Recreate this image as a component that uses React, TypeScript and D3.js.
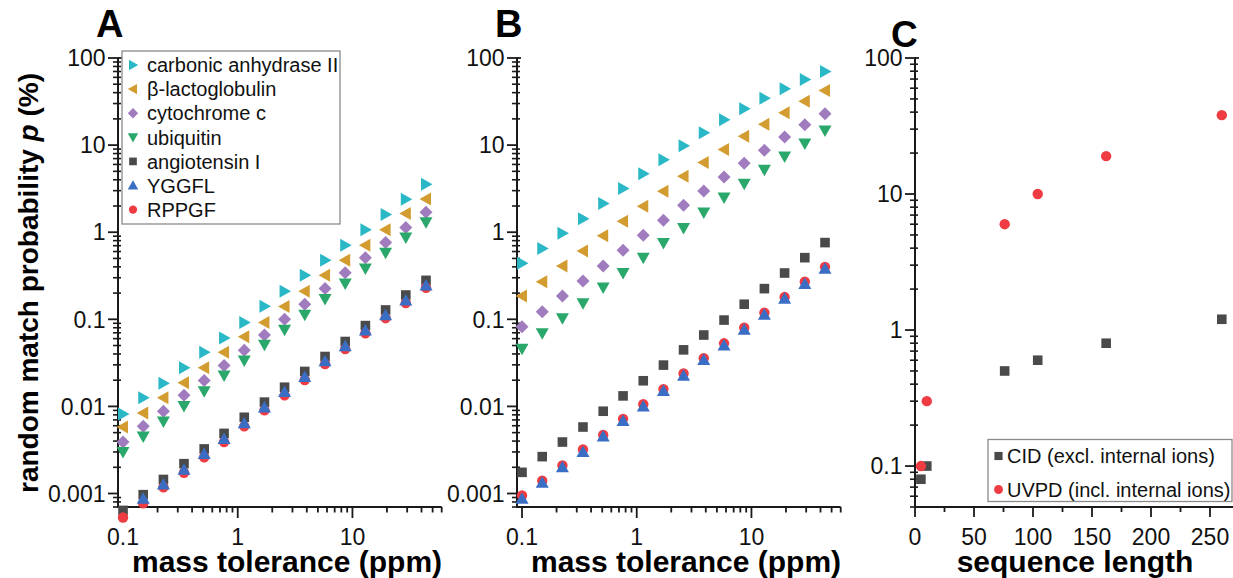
import React from 'react';
import * as d3 from 'd3';

// ---------- data ----------
const toleranceSteps = [0.1, 0.15, 0.225, 0.34, 0.51, 0.76, 1.14, 1.71, 2.56, 3.84, 5.77, 8.65, 12.97, 19.46, 29.19, 43.79];

const seriesNames = ['carbonic anhydrase II', 'β-lactoglobulin', 'cytochrome c', 'ubiquitin', 'angiotensin I', 'YGGFL', 'RPPGF'];
const seriesColors = ['#2bb8c6', '#d39c30', '#a07cbf', '#2aa76a', '#4a4a4a', '#3a6dc4', '#ef3b42'];
const seriesShapes = ['right', 'left', 'diamond', 'down', 'square', 'up', 'circle'];

// Panel A
const carbonicA = [0.0082, 0.0126, 0.0185, 0.0277, 0.0418, 0.061, 0.092, 0.141, 0.21, 0.32, 0.478, 0.71, 1.07, 1.6, 2.39, 3.55];
const lactoA = [0.0058, 0.0084, 0.0126, 0.0187, 0.0277, 0.0418, 0.063, 0.092, 0.14, 0.21, 0.32, 0.478, 0.71, 1.07, 1.64, 2.4];
const cytoA = [0.0039, 0.0059, 0.0088, 0.0134, 0.0199, 0.0295, 0.044, 0.066, 0.1, 0.149, 0.226, 0.342, 0.51, 0.76, 1.13, 1.7];
const ubiqA = [0.003, 0.0045, 0.0067, 0.0101, 0.0149, 0.0227, 0.0336, 0.051, 0.076, 0.113, 0.171, 0.258, 0.384, 0.58, 0.87, 1.3];
const angioA = [0.00064, 0.00097, 0.00145, 0.0022, 0.00325, 0.0049, 0.0075, 0.0112, 0.0166, 0.0252, 0.0374, 0.0556, 0.0847, 0.128, 0.19, 0.28];
const yggflA = [null, 0.00087, 0.00127, 0.00187, 0.00285, 0.00423, 0.0064, 0.0097, 0.0146, 0.0217, 0.033, 0.049, 0.0745, 0.111, 0.164, 0.245];
const rppgfA = [0.00053, 0.00077, 0.00118, 0.00173, 0.00261, 0.0039, 0.0059, 0.009, 0.0134, 0.0201, 0.0306, 0.0455, 0.069, 0.103, 0.154, 0.23];

// Panel B
const carbonicB = [0.44, 0.65, 0.97, 1.43, 2.13, 3.17, 4.7, 6.8, 9.85, 13.9, 19.5, 26.1, 34.5, 44.3, 56.6, 69.8];
const lactoB = [0.185, 0.27, 0.41, 0.61, 0.91, 1.34, 1.99, 2.95, 4.38, 6.3, 8.9, 12.6, 17.3, 23.5, 31.9, 42.4];
const cytoB = [0.082, 0.122, 0.185, 0.275, 0.41, 0.62, 0.92, 1.37, 2.04, 2.97, 4.3, 6.2, 8.7, 12.4, 17.1, 22.9];
const ubiqB = [0.046, 0.069, 0.103, 0.153, 0.232, 0.34, 0.51, 0.75, 1.12, 1.68, 2.5, 3.6, 5.2, 7.4, 10.4, 14.7];
const angioB = [0.00175, 0.00265, 0.0039, 0.0058, 0.0088, 0.0132, 0.0197, 0.0298, 0.0446, 0.066, 0.098, 0.149, 0.225, 0.34, 0.51, 0.76];
const yggflB = [0.00087, 0.00133, 0.002, 0.003, 0.0045, 0.0068, 0.01, 0.015, 0.0225, 0.034, 0.05, 0.076, 0.113, 0.172, 0.254, 0.38];
const rppgfB = [0.00095, 0.0014, 0.0021, 0.0032, 0.0047, 0.0072, 0.0106, 0.0158, 0.0239, 0.0358, 0.053, 0.08, 0.119, 0.18, 0.27, 0.4];

// Panel C
const cLegendNames = ['CID (excl. internal ions)', 'UVPD (incl. internal ions)'];
const cColors = ['#4a4a4a', '#ef3b42'];
const cShapes = ['square', 'circle'];
const cidLength = [5, 10, 76, 104, 162, 260];
const cidP = [0.08, 0.1, 0.5, 0.6, 0.8, 1.2];
const uvpdLength = [5, 10, 76, 104, 162, 260];
const uvpdP = [0.1, 0.3, 6, 10, 19, 38];

const logMajorLabelsAB = ['0.001', '0.01', '0.1', '1', '10', '100'];
const logMajorLabelsC = ['0.1', '1', '10', '100'];
const tolLabels = ['0.1', '1', '10'];
const seqTicks = [0, 50, 100, 150, 200, 250];

// ---------- helpers ----------
const FONT = '"Liberation Sans", Arial, Helvetica, sans-serif';
const AX = '#1a1a1a';

function markerPath(shape: string, k = 1): string {
  const s = k;
  const pts = (arr: number[][]) => 'M' + arr.map(p => `${p[0] * s},${p[1] * s}`).join('L') + 'Z';
  switch (shape) {
    case 'right': return pts([[-5, -6.5], [6.5, 0], [-5, 6.5]]);
    case 'left': return pts([[5, -6.5], [-6.5, 0], [5, 6.5]]);
    case 'down': return pts([[-6.5, -5], [6.5, -5], [0, 6.5]]);
    case 'up': return pts([[-6.5, 5], [6.5, 5], [0, -6.5]]);
    case 'diamond': return pts([[0, -6.5], [6.5, 0], [0, 6.5], [-6.5, 0]]);
    case 'square': return pts([[-4.8, -4.8], [4.8, -4.8], [4.8, 4.8], [-4.8, 4.8]]);
    default: return '';
  }
}

function Marker({ shape, x, y, color, k = 1 }: any) {
  if (shape === 'circle') return <circle cx={x} cy={y} r={5.2 * k} fill={color} />;
  return <path d={markerPath(shape, k)} transform={`translate(${x},${y})`} fill={color} />;
}

function isMajor(v: number) {
  const l = Math.log10(v);
  return Math.abs(l - Math.round(l)) < 1e-6;
}

function LogYAxis({ y, x0, labels }: any) {
  const ticks = y.ticks();
  const majors = ticks.filter(isMajor);
  const [d0, d1] = y.domain();
  return (
    <g>
      <line x1={x0} x2={x0} y1={y(d0) + 1} y2={y(d1)} stroke={AX} strokeWidth={2} />
      {ticks.map((t: number, i: number) => isMajor(t)
        ? <line key={i} x1={x0 - 10} x2={x0 + 1} y1={y(t)} y2={y(t)} stroke={AX} strokeWidth={1.8} />
        : <line key={i} x1={x0 - 5} x2={x0 + 3} y1={y(t)} y2={y(t)} stroke={AX} strokeWidth={1.6} />)}
      <line x1={x0} x2={x0 + 4} y1={y(d1)} y2={y(d1)} stroke={AX} strokeWidth={1.8} />
      {majors.map((t: number, i: number) => (
        <text key={i} x={x0 - 12.5} y={y(t)} dy="0.36em" textAnchor="end" fontSize={23} fontFamily={FONT} fill="#111">{labels[i]}</text>
      ))}
    </g>
  );
}

function LogXAxis({ x, y0, labels }: any) {
  const ticks = x.ticks();
  const majors = ticks.filter(isMajor);
  const [d0, d1] = x.domain();
  return (
    <g>
      <line x1={x(d0) - 1} x2={x(d1)} y1={y0} y2={y0} stroke={AX} strokeWidth={2} />
      {ticks.map((t: number, i: number) => (
        <line key={i} x1={x(t)} x2={x(t)} y1={y0} y2={y0 + (isMajor(t) ? 11 : 5.5)} stroke={AX} strokeWidth={1.8} />
      ))}
      {majors.map((t: number, i: number) => (
        <text key={i} x={x(t)} y={545} textAnchor="middle" fontSize={23} fontFamily={FONT} fill="#111">{labels[i]}</text>
      ))}
    </g>
  );
}

const drawOrder = [0, 1, 2, 3, 4, 6, 5];

function TolerancePanel({ left, data, letter, legend }: any) {
  const x = d3.scaleLog().domain([0.0904, 60]).range([left, left + 323.7]);
  const y = d3.scaleLog().domain([0.0007, 100]).range([507, 58]);
  return (
    <g>
      <LogYAxis y={y} x0={left} labels={logMajorLabelsAB} />
      <LogXAxis x={x} y0={507} labels={tolLabels} />
      {drawOrder.map(si => (
        <g key={si}>
          {data[si].map((v: number | null, i: number) => v == null ? null : (
            <Marker key={i} shape={seriesShapes[si]} x={x(toleranceSteps[i])} y={y(v)} color={seriesColors[si]} />
          ))}
        </g>
      ))}
      <text x={left - 22} y={37} fontSize={38} fontWeight="bold" fontFamily={FONT} fill="#000">{letter}</text>
      <text x={left + 169} y={571.5} textAnchor="middle" fontSize={30} fontWeight="bold" fontFamily={FONT} fill="#000">mass tolerance (ppm)</text>
      {legend && (
        <g>
          <rect x={122} y={51} width={218} height={173} fill="#fff" stroke="#8a8a8a" strokeWidth={1.3} />
          {seriesNames.map((n, i) => (
            <g key={i}>
              <Marker shape={seriesShapes[i]} x={133} y={65 + i * 24.1} color={seriesColors[i]} k={0.8} />
              <text x={147} y={65 + i * 24.1} dy="0.36em" fontSize={20} fontFamily={FONT} fill="#111">{n}</text>
            </g>
          ))}
        </g>
      )}
    </g>
  );
}

function SequencePanel() {
  const left = 915;
  const x = d3.scaleLinear().domain([0, 270]).range([left, left + 270 * 1.18]);
  const y = d3.scaleLog().domain([0.05, 100]).range([507, 58]);
  const minorX = d3.range(25, 270, 50);
  return (
    <g>
      <LogYAxis y={y} x0={left} labels={logMajorLabelsC} />
      <line x1={left - 1} x2={1233} y1={507} y2={507} stroke={AX} strokeWidth={2} />
      {seqTicks.map((t, i) => (
        <g key={i}>
          <line x1={x(t)} x2={x(t)} y1={507} y2={517} stroke={AX} strokeWidth={1.8} />
          <text x={x(t)} y={545} textAnchor="middle" fontSize={23} fontFamily={FONT} fill="#111">{t}</text>
        </g>
      ))}
      {minorX.map((t, i) => <line key={i} x1={x(t)} x2={x(t)} y1={507} y2={512} stroke={AX} strokeWidth={1.8} />)}
      {cidLength.map((l, i) => <Marker key={'c' + i} shape="square" x={x(l)} y={y(cidP[i])} color={cColors[0]} />)}
      {uvpdLength.map((l, i) => <Marker key={'u' + i} shape="circle" x={x(l)} y={y(uvpdP[i])} color={cColors[1]} />)}
      <text x={891} y={47} fontSize={37} fontWeight="bold" fontFamily={FONT} fill="#000">C</text>
      <text x={1075} y={571.5} textAnchor="middle" fontSize={30} fontWeight="bold" fontFamily={FONT} fill="#000">sequence length</text>
      <rect x={988} y={439.5} width={244} height={62} fill="#fff" stroke="#8a8a8a" strokeWidth={1.3} />
      {cLegendNames.map((n, i) => (
        <g key={i}>
          <Marker shape={cShapes[i]} x={998.5} y={456 + i * 33.5} color={cColors[i]} k={0.85} />
          <text x={1007} y={456 + i * 33.5} dy="0.36em" fontSize={20} fontFamily={FONT} fill="#111">{n}</text>
        </g>
      ))}
    </g>
  );
}

export default function App() {
  const dataA = [carbonicA, lactoA, cytoA, ubiqA, angioA, yggflA, rppgfA];
  const dataB = [carbonicB, lactoB, cytoB, ubiqB, angioB, yggflB, rppgfB];
  return (
    <svg width={1233} height={578} viewBox="0 0 1233 578" style={{ position: 'absolute', left: 0, top: 0, background: '#fff' }}>
      <rect width={1233} height={578} fill="#fff" />
      <text transform="translate(38,283) rotate(-90)" textAnchor="middle" fontSize={28} fontWeight="bold" fontFamily={FONT} fill="#000">
        random match probability <tspan fontStyle="italic">p</tspan> (%)
      </text>
      <TolerancePanel left={118} data={dataA} letter="A" legend />
      <TolerancePanel left={517} data={dataB} letter="B" />
      <SequencePanel />
    </svg>
  );
}
